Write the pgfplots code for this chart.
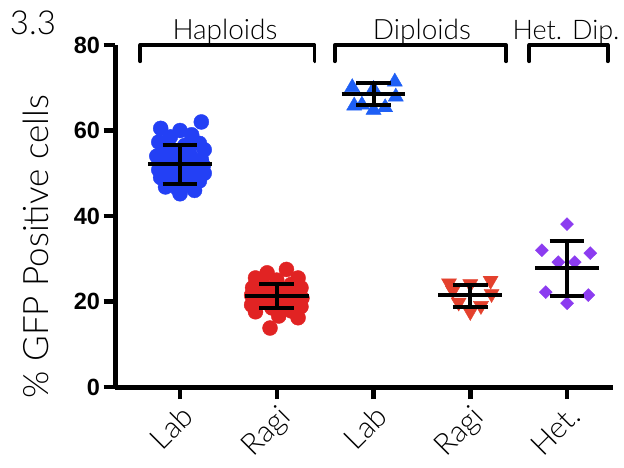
\documentclass[border=0pt]{standalone}
\usepackage{fontspec}
\setmainfont{Lato Light}
\newfontfamily\tickfont{Liberation Sans}
\usepackage{pgfplots}
\pgfplotsset{compat=1.18}
\definecolor{cblue}{RGB}{35,64,245}
\definecolor{tblue}{RGB}{30,95,245}
\definecolor{cred}{RGB}{225,35,35}
\definecolor{tred}{RGB}{228,65,45}
\definecolor{cpurp}{RGB}{140,60,240}
\begin{document}
\begin{tikzpicture}
\begin{axis}[
  set layers,
  scale only axis, width=497.5pt, height=342pt,
  xmin=0.333, xmax=5.475, ymin=0, ymax=80,
  axis x line*=bottom, axis y line*=left,
  axis line style={line width=5pt, -, black},
  xtick={1,2,3,4,5}, xticklabels={Lab,Ragi,Lab,Ragi,Het.},
  ytick={0,20,40,60,80},
  tick align=outside, major tick length=12pt,
  tick style={line width=4.5pt, black},
  xticklabel style={font=\fontsize{30}{30}\selectfont, rotate=45, anchor=north east, inner sep=3pt},
  yticklabel style={font=\tickfont\bfseries\fontsize{23.5}{23.5}\selectfont},
  /pgf/number format/assume math mode=true,
  clip=false,
]
\coordinate (O) at (rel axis cs:0,0);
% Haploid Lab
\addplot[only marks, mark=*, mark size=7.5pt, color=cblue, mark options={fill=cblue, draw=cblue}] coordinates {
(1.22,62.0) (0.80,60.5) (1.00,60.0) (1.12,59.0) (0.90,58.5) (0.78,57.3) (1.20,57.0)
(1.05,56.5) (0.85,55.8) (1.25,55.5) (0.95,55.2) (1.10,54.5) (0.76,54.0) (1.00,53.8)
(1.22,53.2) (0.88,53.0) (1.08,52.6) (0.80,52.0) (1.24,51.8) (0.95,51.5) (1.15,51.0)
(0.78,50.8) (1.02,50.5) (1.25,50.0) (0.88,49.8) (1.12,49.3) (0.80,49.0) (1.00,48.6)
(1.20,48.2) (0.90,47.8) (1.10,47.2) (0.85,46.8) (0.97,46.5) (1.15,46.0) (1.00,45.2)
};
% Haploid Ragi
\addplot[only marks, mark=*, mark size=7.5pt, color=cred, mark options={fill=cred, draw=cred}] coordinates {
(2.10,27.5) (1.90,26.7) (1.78,25.5) (2.22,25.5) (2.00,25.0) (1.85,24.2) (2.15,24.0)
(1.75,23.2) (2.25,23.2) (1.95,23.0) (2.08,22.6) (1.82,22.3) (2.20,22.0) (2.00,21.8)
(1.74,21.5) (1.90,21.2) (2.12,21.0) (2.26,20.8) (1.80,20.5) (2.02,20.3) (2.18,20.0)
(1.88,19.8) (1.74,19.2) (2.08,19.4) (2.25,18.8) (1.95,18.5) (1.78,17.6) (2.15,17.8)
(2.02,16.6) (2.22,16.2) (1.93,13.8)
};
% Diploid Lab
\addplot[only marks, mark=triangle*, mark size=8.7pt, color=tblue, mark options={fill=tblue, draw=tblue}] coordinates {
(2.78,70.1) (3.00,69.7) (3.22,71.4) (3.23,67.9) (2.88,66.0) (3.00,64.8) (3.12,65.4) (2.80,65.8)
};
% Diploid Ragi
\addplot[only marks, mark=triangle*, mark size=8.7pt, color=tred, mark options={fill=tred, draw=tred, rotate=180}] coordinates {
(3.78,24.3) (4.00,24.1) (4.21,24.9) (4.22,21.8) (3.88,19.8) (4.00,17.6) (4.11,19.0) (3.82,22.6)
};
% Het
\addplot[only marks, mark=square*, mark size=4.6pt, color=cpurp, mark options={fill=cpurp, draw=cpurp, rotate=45}] coordinates {
(4.74,32.0) (5.24,31.3) (4.91,29.2) (5.08,29.2) (4.78,22.2) (5.22,21.5) (5.00,19.6) (5.00,38.1)
};
% mean and SD bars
\pgfplotsset{errbar/.style={black, line width=4pt, forget plot, on layer=axis foreground}}
\addplot[errbar] coordinates {(0.67,52.2) (1.33,52.2)};
\addplot[errbar] coordinates {(1.0,47.6) (1.0,56.7)};
\addplot[errbar] coordinates {(0.82,47.6) (1.18,47.6)};
\addplot[errbar] coordinates {(0.82,56.7) (1.18,56.7)};
\addplot[errbar] coordinates {(1.67,21.2) (2.33,21.2)};
\addplot[errbar] coordinates {(2.0,18.5) (2.0,24.0)};
\addplot[errbar] coordinates {(1.82,18.5) (2.18,18.5)};
\addplot[errbar] coordinates {(1.82,24.0) (2.18,24.0)};
\addplot[errbar] coordinates {(2.67,68.5) (3.33,68.5)};
\addplot[errbar] coordinates {(3.0,66.0) (3.0,71.0)};
\addplot[errbar] coordinates {(2.82,66.0) (3.18,66.0)};
\addplot[errbar] coordinates {(2.82,71.0) (3.18,71.0)};
\addplot[errbar] coordinates {(3.67,21.5) (4.33,21.5)};
\addplot[errbar] coordinates {(4.0,18.8) (4.0,23.9)};
\addplot[errbar] coordinates {(3.82,18.8) (4.18,18.8)};
\addplot[errbar] coordinates {(3.82,23.9) (4.18,23.9)};
\addplot[errbar] coordinates {(4.67,27.8) (5.33,27.8)};
\addplot[errbar] coordinates {(5.0,21.3) (5.0,34.2)};
\addplot[errbar] coordinates {(4.82,21.3) (5.18,21.3)};
\addplot[errbar] coordinates {(4.82,34.2) (5.18,34.2)};
% brackets
\draw[line width=3.8pt, line cap=round, line join=round] (axis cs:0.59,76.2) -- (axis cs:0.59,80) -- (axis cs:2.39,80) -- (axis cs:2.39,76.2);
\draw[line width=3.8pt, line cap=round, line join=round] (axis cs:2.60,76.2) -- (axis cs:2.60,80) -- (axis cs:4.37,80) -- (axis cs:4.37,76.2);
\draw[line width=3.8pt, line cap=round, line join=round] (axis cs:4.61,76.2) -- (axis cs:4.61,80) -- (axis cs:5.42,80) -- (axis cs:5.42,76.2);
\node[anchor=base, font=\fontsize{28}{28}\selectfont] at (axis cs:1.465,81.4) {Haploids};
\node[anchor=base, font=\fontsize{28}{28}\selectfont] at (axis cs:3.5,81.4) {Diploids};
\node[anchor=base, font=\fontsize{27}{27}\selectfont] at (axis cs:4.99,81.4) {Het. Dip.};
\node[anchor=base, font=\fontsize{33}{33}\selectfont] at (axis cs:-0.52,82.4) {3.3};
\node[xshift=-80pt, rotate=90, font=\fontsize{35}{35}\selectfont] at (rel axis cs:0,0.41) {\% GFP Positive cells};
\end{axis}
\pgfresetboundingbox
\path ([shift={(-115.5pt,-80pt)}]O) rectangle ([shift={(508.5pt,387pt)}]O);
\end{tikzpicture}
\end{document}
